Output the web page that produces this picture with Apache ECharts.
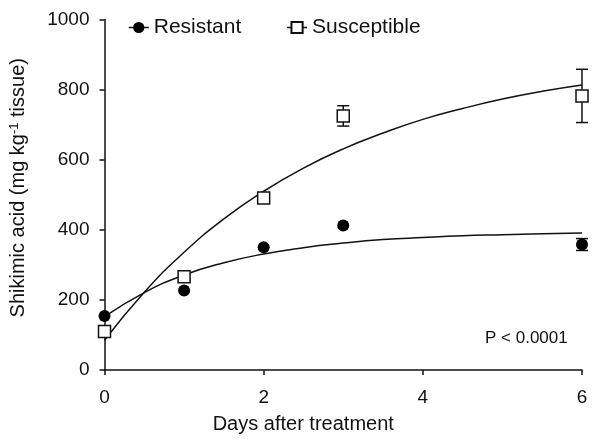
<!DOCTYPE html>
<html>
<head>
<meta charset="utf-8">
<script src="https://cdn.jsdelivr.net/npm/echarts@6/dist/echarts.min.js"></script>
<style>
  html, body { margin: 0; padding: 0; background: #fff; }
  #chart { width: 593px; height: 439px; }
</style>
</head>
<body>
<div id="chart"></div>
<script>
// measured points (days, shikimic acid)
const days = [0, 1, 2, 3, 6];
const resistant = [154, 227, 350, 412, 358];
const susceptible = [110, 266, 491, 725, 782];
// error bars (+/-), 0 where hidden behind the marker
const resistantErr = [0, 0, 0, 0, 17];
const susceptibleErr = [0, 0, 9, 29, 76];

// fitted curves
const curveDays = [0, 0.5, 1, 1.5, 2, 2.5, 3, 3.5, 4, 4.5, 5, 5.5, 6];
const resistantFit = [152, 221, 271, 306, 331, 349, 362, 372, 378, 383, 386, 389, 391];
const susceptibleFit = [85, 222, 336, 431, 510, 576, 631, 676, 715, 746, 773, 795, 813];

const yTicks = [0, 200, 400, 600, 800, 1000];
const xTicks = [0, 2, 4, 6];

const font = 'Liberation Sans, Arial, sans-serif';
const ink = '#111';

const pairs = (xs, ys) => xs.map((x, i) => [x, ys[i]]);
const bars = (ys, errs) => days.map((x, i) => [x, ys[i] - errs[i], ys[i] + errs[i]]).filter((d, i) => errs[i] > 0);

const errorBar = (params, api) => {
  const lo = api.coord([api.value(0), api.value(1)]);
  const hi = api.coord([api.value(0), api.value(2)]);
  const w = 6;
  const style = { stroke: ink, lineWidth: 1.5 };
  return {
    type: 'group',
    children: [
      { type: 'line', shape: { x1: lo[0], y1: lo[1], x2: hi[0], y2: hi[1] }, style },
      { type: 'line', shape: { x1: lo[0] - w, y1: lo[1], x2: lo[0] + w, y2: lo[1] }, style },
      { type: 'line', shape: { x1: hi[0] - w, y1: hi[1], x2: hi[0] + w, y2: hi[1] }, style }
    ]
  };
};

const myChart = echarts.init(document.getElementById('chart'));

const option = {
  animation: false,
  backgroundColor: '#fff',
  grid: { left: 101, right: 11, top: 19.5, bottom: 63, containLabel: false },
  legend: {
    data: ['Resistant', 'Susceptible'],
    left: 123,
    top: 12,
    itemGap: 45,
    itemWidth: 20,
    itemHeight: 14,
    textStyle: { fontFamily: font, fontSize: 21, color: ink },
    lineStyle: { opacity: 1, width: 1.5, color: ink }
  },
  xAxis: {
    type: 'value',
    min: 0,
    max: 6,
    interval: 2,
    name: 'Days after treatment',
    nameLocation: 'middle',
    nameGap: 44,
    nameTextStyle: { fontFamily: font, fontSize: 20, color: ink, padding: [0, 80, 0, 0] },
    axisLine: { show: true, lineStyle: { color: ink, width: 1.5 } },
    axisTick: { show: true, inside: false, length: 5, lineStyle: { color: ink, width: 1.5 } },
    axisLabel: {
      margin: 18, fontFamily: font, fontSize: 19, color: ink,
      customValues: xTicks
    },
    splitLine: { show: false }
  },
  yAxis: {
    type: 'value',
    min: 0,
    max: 1000,
    interval: 200,
    name: '{a|Shikimic acid (mg kg}{s|-1}{a| tissue)}',
    nameLocation: 'middle',
    nameGap: 74,
    nameTextStyle: {
      fontFamily: font, color: ink, padding: [0, 0, 0, 14],
      rich: {
        a: { fontFamily: font, fontSize: 20, color: ink, lineHeight: 24 },
        s: { fontFamily: font, fontSize: 13, color: ink, lineHeight: 24, padding: [0, 0, 8, 0] }
      }
    },
    axisLine: { show: true, lineStyle: { color: ink, width: 1.5 } },
    axisTick: { show: true, inside: false, length: 5, lineStyle: { color: ink, width: 1.5 } },
    axisLabel: {
      margin: 15, fontFamily: font, fontSize: 19, color: ink,
      customValues: yTicks,
      formatter: (v) => String(v)
    },
    splitLine: { show: false }
  },
  graphic: [
    {
      type: 'text',
      left: 485,
      top: 330,
      style: { text: 'P < 0.0001', fontFamily: font, fontSize: 17, fill: ink }
    }
  ],
  series: [
    {
      name: 'ResistantFit',
      type: 'line',
      data: pairs(curveDays, resistantFit),
      smooth: true,
      showSymbol: false,
      silent: true,
      z: 1,
      lineStyle: { color: ink, width: 1.5 }
    },
    {
      name: 'SusceptibleFit',
      type: 'line',
      data: pairs(curveDays, susceptibleFit),
      smooth: true,
      showSymbol: false,
      silent: true,
      z: 1,
      lineStyle: { color: ink, width: 1.5 }
    },
    {
      name: 'ResistantErr',
      type: 'custom',
      renderItem: errorBar,
      data: bars(resistant, resistantErr),
      clip: false,
      silent: true,
      z: 2
    },
    {
      name: 'SusceptibleErr',
      type: 'custom',
      renderItem: errorBar,
      data: bars(susceptible, susceptibleErr),
      clip: false,
      silent: true,
      z: 2
    },
    {
      name: 'Resistant',
      type: 'line',
      data: pairs(days, resistant),
      symbol: 'circle',
      symbolSize: 12,
      clip: false,
      z: 3,
      itemStyle: { color: '#000', borderWidth: 0 },
      lineStyle: { opacity: 0 }
    },
    {
      name: 'Susceptible',
      type: 'line',
      data: pairs(days, susceptible),
      symbol: 'rect',
      symbolSize: 12,
      clip: false,
      z: 3,
      itemStyle: { color: '#fff', borderColor: ink, borderWidth: 1.5 },
      lineStyle: { opacity: 0 }
    }
  ]
};

myChart.setOption(option);

window.addEventListener('resize', () => {
  myChart.resize();
});
</script>
</body>
</html>
